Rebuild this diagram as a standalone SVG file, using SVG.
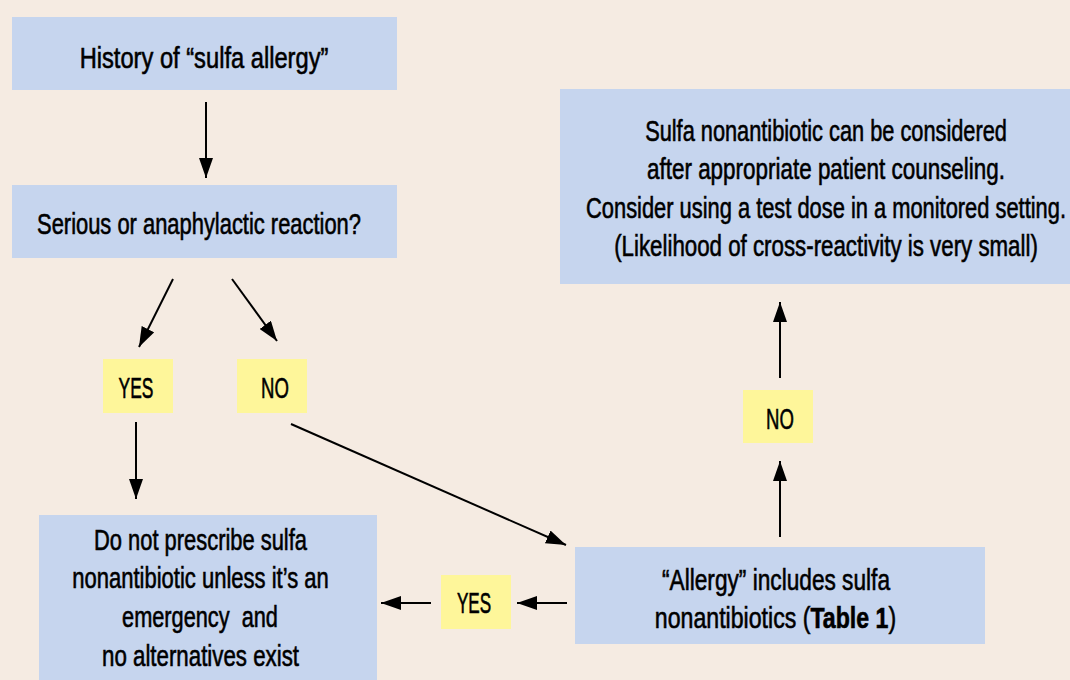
<svg xmlns="http://www.w3.org/2000/svg" width="1070" height="680" viewBox="0 0 1070 680">
<defs>
<style>
.bg{fill:#f5ebe2}
.box{fill:#c6d5ee}
.lab{fill:#fef69a}
text{font-family:"Liberation Sans",Arial,sans-serif;font-size:29px;fill:#000;stroke:#000;stroke-width:0.6;text-anchor:middle}
.con line{stroke:#000;stroke-width:2;marker-end:url(#ah)}
</style>
<marker id="ah" markerUnits="userSpaceOnUse" markerWidth="20" markerHeight="14" refX="20" refY="7" orient="auto">
<path d="M0,0 L20,7 L0,14 z" fill="#000"/>
</marker>
</defs>
<rect class="bg" x="0" y="0" width="1070" height="680"/>
<g id="n-history">
<rect class="box" x="12" y="17" width="385" height="73"/>
<text transform="translate(204,68) scale(0.817,1)">History of “sulfa allergy”</text>
</g>
<g id="n-serious">
<rect class="box" x="12" y="185" width="385" height="73"/>
<text transform="translate(199,234) scale(0.756,1)">Serious or anaphylactic reaction?</text>
</g>
<g id="n-yes1">
<rect class="lab" x="103" y="359" width="70" height="54"/>
<text transform="translate(136,398) scale(0.6,1)">YES</text>
</g>
<g id="n-no1">
<rect class="lab" x="237" y="359" width="70" height="54"/>
<text transform="translate(275,398) scale(0.64,1)">NO</text>
</g>
<g id="n-donot">
<rect class="box" x="39" y="515" width="338" height="170"/>
<text transform="translate(200.5,550) scale(0.755,1)">Do not prescribe sulfa</text>
<text transform="translate(200.5,588) scale(0.759,1)">nonantibiotic unless it’s an</text>
<text transform="translate(200,627) scale(0.75,1)" xml:space="preserve">emergency  and</text>
<text transform="translate(200.5,666) scale(0.769,1)">no alternatives exist</text>
</g>
<g id="n-allergy">
<rect class="box" x="575" y="547" width="410" height="97"/>
<text transform="translate(776,590) scale(0.782,1)">“Allergy” includes sulfa</text>
<text transform="translate(775.5,628) scale(0.798,1)">nonantibiotics (<tspan font-weight="bold">Table 1</tspan>)</text>
</g>
<g id="n-yes2">
<rect class="lab" x="441" y="575" width="70" height="54"/>
<text transform="translate(474,613) scale(0.59,1)">YES</text>
</g>
<g id="n-no2">
<rect class="lab" x="743" y="390" width="70" height="53"/>
<text transform="translate(780,429) scale(0.64,1)">NO</text>
</g>
<g id="n-consider">
<rect class="box" x="560" y="89" width="515" height="195"/>
<text transform="translate(826,141) scale(0.751,1)">Sulfa nonantibiotic can be considered</text>
<text transform="translate(826,179) scale(0.774,1)">after appropriate patient counseling.</text>
<text transform="translate(826,218) scale(0.754,1)">Consider using a test dose in a monitored setting.</text>
<text transform="translate(826,256) scale(0.769,1)">(Likelihood of cross-reactivity is very small)</text>
</g>
<g id="connectors" class="con">
<line x1="206" y1="102" x2="206" y2="178"/>
<line x1="173" y1="279" x2="139" y2="347"/>
<line x1="232" y1="279" x2="277" y2="341"/>
<line x1="136" y1="422" x2="136" y2="499"/>
<line x1="291" y1="424" x2="566" y2="545"/>
<line x1="567" y1="603" x2="517" y2="603"/>
<line x1="431" y1="603" x2="381" y2="603"/>
<line x1="780" y1="537" x2="780" y2="461"/>
<line x1="780" y1="378" x2="780" y2="302"/>
</g>
</svg>
